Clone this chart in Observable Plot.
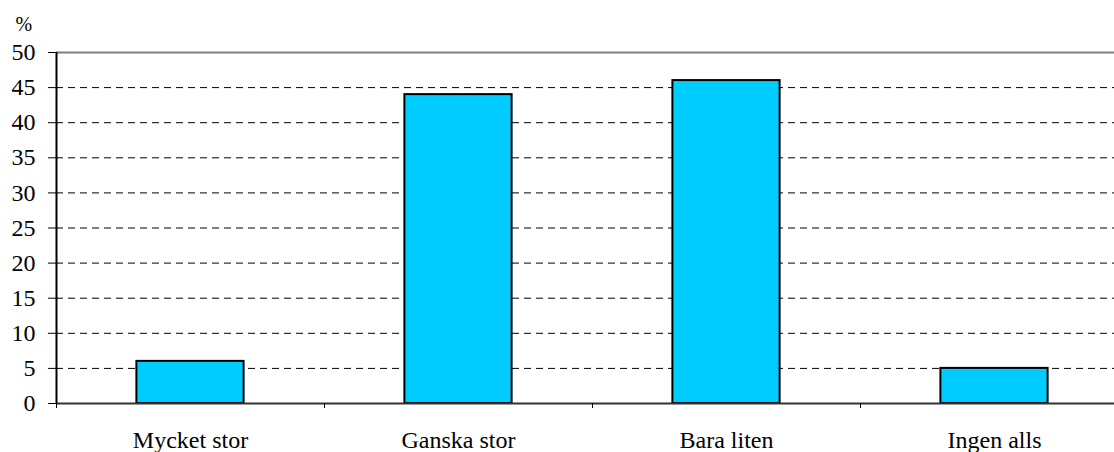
<!DOCTYPE html>
<html>
<head>
<meta charset="utf-8">
<script src="https://cdn.jsdelivr.net/npm/d3@7"></script>
<script src="https://cdn.jsdelivr.net/npm/@observablehq/plot@0.6"></script>
<style>
  html, body { margin: 0; padding: 0; background: #fff; }
  svg { display: block; }
  #chart svg, #chart svg text { font-family: "Liberation Serif", "Times New Roman", serif !important; }
</style>
</head>
<body>
<div id="chart"></div>
<script>
const categories = ["Mycket stor", "Ganska stor", "Bara liten", "Ingen alls"];
const values = [6, 44, 46, 5];
const yTicks = [0, 5, 10, 15, 20, 25, 30, 35, 40, 45, 50];
const gridLines = [5, 10, 15, 20, 25, 30, 35, 40, 45];
const unitLabel = "%";

const data = categories.map((c, i) => ({cat: c, i, value: values[i]}));
const boundaries = d3.range(categories.length + 1);
const centers = categories.map((c, i) => i + 0.5);

const chart = Plot.plot({
  width: 1114,
  height: 452,
  marginTop: 52,
  marginBottom: 49,
  marginLeft: 56,
  marginRight: 0,
  style: "font-family: 'Liberation Serif', serif; font-size: 24px; color: #000; background: #fff;",
  x: {domain: [0, categories.length], range: [56, 1128]},
  y: {domain: [0, 50]},
  marks: [
    Plot.ruleY(gridLines, {stroke: "#000", strokeWidth: 1, strokeDasharray: "7,5"}),
    Plot.ruleY([50], {stroke: "#808080", strokeWidth: 2}),
    Plot.rectY(data, {x1: d => d.i + 0.3, x2: d => d.i + 0.7, y1: 0, y2: "value", fill: "#00CCFF", stroke: "#000", strokeWidth: 2}),
    Plot.ruleY([0], {stroke: "#333", strokeWidth: 2}),
    Plot.ruleX([0], {stroke: "#000", strokeWidth: 2}),
    Plot.axisY({ticks: yTicks, tickSize: 8, tickPadding: 13, tickFormat: d3.format("d"), label: null, stroke: "#000", fontSize: 24, fill: "#000"}),
    Plot.text([unitLabel], {frameAnchor: "top-left", dx: -41, dy: -28, lineAnchor: "middle", text: d => d, fontSize: 20, fill: "#000", textAnchor: "start"}),
    Plot.axisX({ticks: boundaries, tickSize: 5, tickFormat: () => "", label: null, stroke: "#000"}),
    Plot.axisX({ticks: centers, tickSize: 0, tickPadding: 27, tickFormat: d => categories[Math.floor(d)], label: null, fontSize: 24, fill: "#000"})
  ]
});
document.getElementById("chart").appendChild(chart);
</script>
</body>
</html>
